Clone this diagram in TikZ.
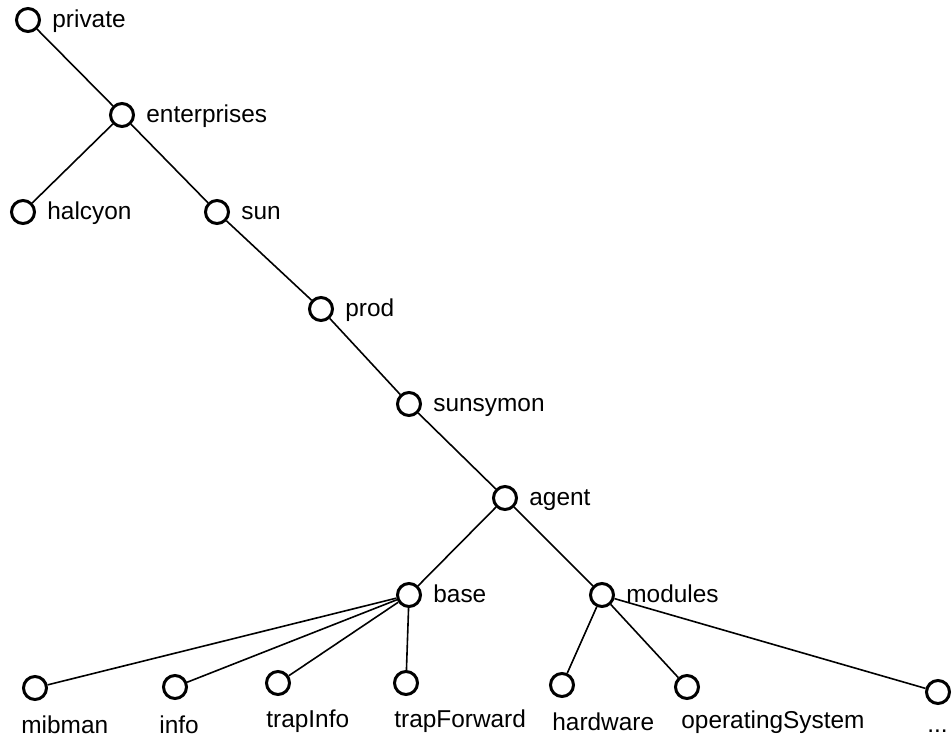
\documentclass[tikz,border=0pt]{standalone}
\usepackage{fontspec}
\setmainfont{Liberation Sans}
\begin{document}
\begin{tikzpicture}[x=0.5pt,y=-0.5pt,
  dot/.style={circle,draw,line width=1.5pt,minimum size=11.5pt,inner sep=0pt,fill=white},
  lbl/.style={anchor=base west,inner sep=0pt,font=\fontsize{12.2pt}{14pt}\selectfont},
  edge/.style={line width=0.8pt}]
\useasboundingbox (0,0) rectangle (952,738);
% nodes
\node[dot] (private) at (28,20) {};
\node[dot] (enterprises) at (122,115) {};
\node[dot] (halcyon) at (23,212) {};
\node[dot] (sun) at (217,212) {};
\node[dot] (prod) at (321,309) {};
\node[dot] (sunsymon) at (409,404) {};
\node[dot] (agent) at (505,498) {};
\node[dot] (base) at (409,595) {};
\node[dot] (modules) at (602,595) {};
\node[dot] (mibman) at (35,688) {};
\node[dot] (info) at (175,687) {};
\node[dot] (trapInfo) at (278,683) {};
\node[dot] (trapForward) at (406,683) {};
\node[dot] (hardware) at (562,685) {};
\node[dot] (operatingSystem) at (687,687) {};
\node[dot] (more) at (938,692) {};
% labels (right)
\node[lbl] (tprivate) at (52,27.5) {private};
\node[lbl] (tenterprises) at (146,122.5) {enterprises};
\node[lbl] (thalcyon) at (47,219.5) {halcyon};
\node[lbl] (tsun) at (241,219.5) {sun};
\node[lbl] (tprod) at (345,316.5) {prod};
\node[lbl] (tsunsymon) at (433,411.5) {sunsymon};
\node[lbl] (tagent) at (529,505.5) {agent};
\node[lbl] (tbase) at (433,602.5) {base};
\node[lbl] (tmodules) at (626,602.5) {modules};
% labels (below)
\node[lbl] (tmibman) at (21,733) {mibman};
\node[lbl] (tinfo) at (159,733) {info};
\node[lbl] (ttrapInfo) at (266,727) {trapInfo};
\node[lbl] (ttrapForward) at (394,727) {trapForward};
\node[lbl] (thardware) at (552,730) {hardware};
\node[lbl] (toperatingSystem) at (681,728) {operatingSystem};
\node[lbl] (tmore) at (927,732) {...};
% edges
\draw[edge] (private) -- (enterprises);
\draw[edge] (enterprises) -- (halcyon);
\draw[edge] (enterprises) -- (sun);
\draw[edge] (sun) -- (prod);
\draw[edge] (prod) -- (sunsymon);
\draw[edge] (sunsymon) -- (agent);
\draw[edge] (agent) -- (base);
\draw[edge] (agent) -- (modules);
\draw[edge] (base) -- (mibman);
\draw[edge] (base) -- (info);
\draw[edge] (base) -- (trapInfo);
\draw[edge] (base) -- (trapForward);
\draw[edge] (modules) -- (hardware);
\draw[edge] (modules) -- (operatingSystem);
\draw[edge] (modules) -- (more);
\end{tikzpicture}
\end{document}
